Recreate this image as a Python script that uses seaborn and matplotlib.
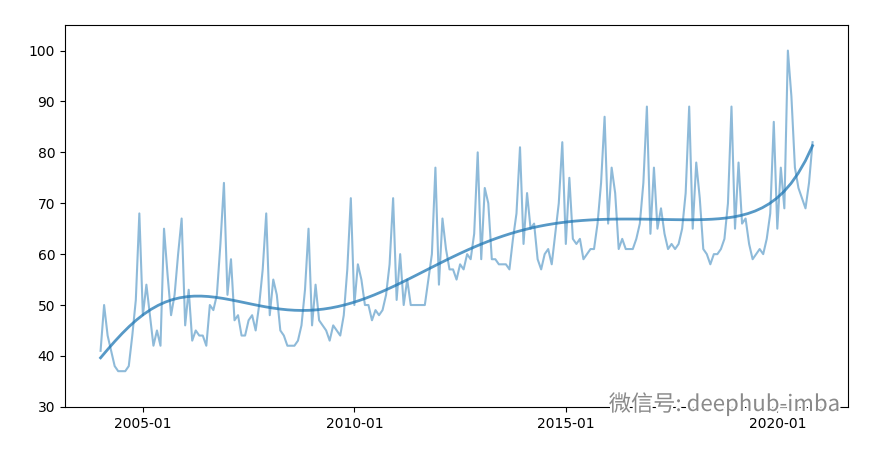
import pandas as pd
import seaborn as sns
import numpy as np
import matplotlib.pyplot as plt
import matplotlib.patheffects as pe

# monthly values, 2004-01 .. 2020-11
values = [
    41, 50, 44, 41, 38, 37, 37, 37, 38, 44, 51, 68,   # 2004
    48, 54, 48, 42, 45, 42, 65, 56, 48, 52, 60, 67,   # 2005
    46, 53, 43, 45, 44, 44, 42, 50, 49, 52, 62, 74,   # 2006
    52, 59, 47, 48, 44, 44, 47, 48, 45, 50, 57, 68,   # 2007
    48, 55, 52, 45, 44, 42, 42, 42, 43, 46, 53, 65,   # 2008
    46, 54, 47, 46, 45, 43, 46, 45, 44, 48, 57, 71,   # 2009
    50, 58, 55, 50, 50, 47, 49, 48, 49, 52, 58, 71,   # 2010
    51, 60, 50, 55, 50, 50, 50, 50, 50, 55, 60, 77,   # 2011
    54, 67, 61, 57, 57, 55, 58, 57, 60, 59, 64, 80,   # 2012
    59, 73, 70, 59, 59, 58, 58, 58, 57, 63, 68, 81,   # 2013
    62, 72, 65, 66, 59, 57, 60, 61, 58, 64, 70, 82,   # 2014
    62, 75, 63, 62, 63, 59, 60, 61, 61, 66, 74, 87,   # 2015
    66, 77, 72, 61, 63, 61, 61, 61, 63, 66, 74, 89,   # 2016
    64, 77, 65, 69, 64, 61, 62, 61, 62, 65, 72, 89,   # 2017
    65, 78, 71, 61, 60, 58, 60, 60, 61, 63, 70, 89,   # 2018
    65, 78, 66, 67, 62, 59, 60, 61, 60, 63, 68, 86,   # 2019
    65, 77, 69, 100, 91, 77, 73, 71, 69, 74, 82,      # 2020
]
months = pd.date_range('2004-01', periods=len(values), freq='MS')
tick_months = ['2005-01', '2010-01', '2015-01', '2020-01']

df = pd.DataFrame({'idx': np.arange(len(values)), 'value': values,
                   'month': months.strftime('%Y-%m')})

fig = plt.figure(figsize=(8.78, 4.49), dpi=100)
ax = fig.add_axes([0.074, 0.094, 0.892, 0.85])

sns.lineplot(data=df, x='idx', y='value', ax=ax, color='#1f77b4', alpha=0.5, linewidth=1.5)
sns.regplot(data=df, x='idx', y='value', ax=ax, order=8, ci=None, scatter=False,
            truncate=True, line_kws={'color': '#1f77b4', 'alpha': 0.75, 'linewidth': 2})

ticks = [df.loc[df['month'] == m, 'idx'].iloc[0] for m in tick_months]
ax.set_xticks(ticks)
ax.set_xticklabels(tick_months)
ax.set_ylim(30, 105)
ax.set_xlabel('')
ax.set_ylabel('')
ax.tick_params(axis='both', labelsize=10)

fig.text(0.825, 0.1, '微信号: deephub-imba', fontsize=16, color='#8a8a8a',
         family=['Noto Sans CJK SC', 'DejaVu Sans'], ha='center', va='center',
         path_effects=[pe.withStroke(linewidth=3, foreground='white')])

plt.savefig('out.png')
